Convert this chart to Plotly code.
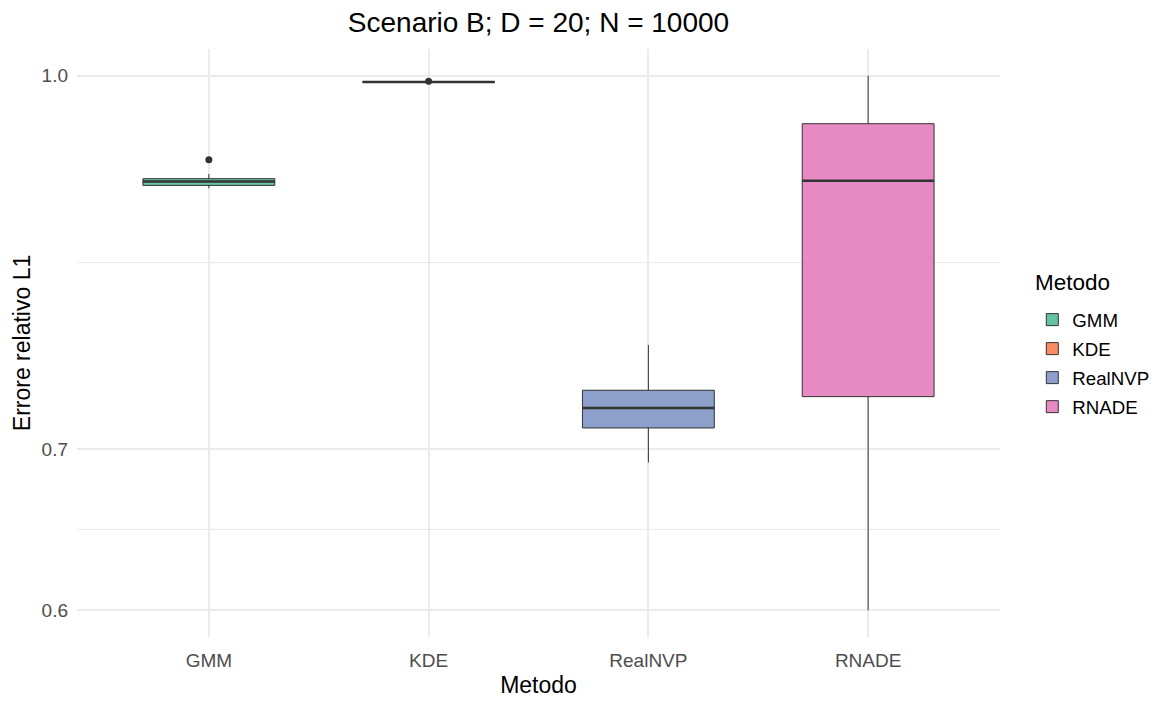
import numpy as np
import plotly.graph_objects as go

# values (boxplot statistics, log scale)
metodi = ["GMM", "KDE", "RealNVP", "RNADE"]
colori = ["#66C2A5", "#FC8D62", "#8DA0CB", "#E78AC3"]
q1 = [0.9005, 0.9938, 0.7142, 0.7359]
mediane = [0.9038, 0.9940, 0.7279, 0.9045]
q3 = [0.9063, 0.9942, 0.7404, 0.9552]
baffo_basso = [0.8980, 0.9935, 0.6910, 0.6000]
baffo_alto = [0.9104, 0.9945, 0.7731, 1.0000]
outlier_x = ["GMM", "KDE"]
outlier_y = [0.9229, 0.9948]

tick_vals = [0.6, 0.7, 1.0]
tick_text = ["0.6", "0.7", "1.0"]

pos = {m: i + 1 for i, m in enumerate(metodi)}
larghezza = 0.6
linea = "#333333"
griglia = "#EBEBEB"

fig = go.Figure()

for i, m in enumerate(metodi):
    fig.add_trace(go.Box(
        x=[pos[m]], q1=[q1[i]], median=[mediane[i]], q3=[q3[i]],
        lowerfence=[baffo_basso[i]], upperfence=[baffo_alto[i]],
        name=m, width=larghezza, whiskerwidth=0,
        fillcolor=colori[i], line=dict(color=linea, width=1),
        boxpoints=False, legendgroup=m,
    ))

# thicker median segment, like ggplot
for i, m in enumerate(metodi):
    fig.add_trace(go.Scatter(
        x=[pos[m] - larghezza / 2, pos[m] + larghezza / 2],
        y=[mediane[i], mediane[i]], mode="lines",
        line=dict(color=linea, width=2.5), showlegend=False,
        hoverinfo="skip",
    ))

fig.add_trace(go.Scatter(
    x=[pos[m] for m in outlier_x], y=outlier_y, mode="markers",
    marker=dict(color=linea, size=7), showlegend=False,
))

lo = np.log10(min(baffo_basso))
hi = np.log10(max(baffo_alto))
pad = (hi - lo) * 0.05
minori = [np.sqrt(tick_vals[0] * tick_vals[1]), np.sqrt(tick_vals[1] * tick_vals[2])]

# page body has an 8px margin, so the figure is a bit smaller than the window
fig.update_layout(
    width=1167, height=700,
    paper_bgcolor="white", plot_bgcolor="white",
    font=dict(family="Liberation Sans, Arial", color="black"),
    margin=dict(l=69, r=175, t=41, b=71, autoexpand=False),
    title=dict(text="Scenario B; D = 20; N = 10000", x=0.5, xref="paper",
               xanchor="center", y=0.98, yanchor="middle",
               font=dict(size=28, color="black")),
    xaxis=dict(
        range=[0.4, 4.6], tickmode="array",
        tickvals=[pos[m] for m in metodi], ticktext=metodi,
        showgrid=True, gridcolor=griglia, gridwidth=2,
        zeroline=False, showline=False, ticks="", automargin=False,
        tickfont=dict(size=19, color="#4D4D4D"), ticklabelstandoff=10,
        title=dict(text="Metodo", font=dict(size=23, color="black"), standoff=6),
    ),
    yaxis=dict(
        type="log", range=[lo - pad, hi + pad], tickmode="array",
        tickvals=tick_vals, ticktext=tick_text,
        showgrid=True, gridcolor=griglia, gridwidth=2,
        minor=dict(tickmode="array", tickvals=minori, showgrid=True,
                   gridcolor=griglia, gridwidth=1, ticks=""),
        zeroline=False, showline=False, ticks="", automargin=False,
        tickfont=dict(size=19, color="#4D4D4D"), ticklabelstandoff=8,
        title=dict(text="Errore relativo L1", font=dict(size=23, color="black"), standoff=4),
    ),
    legend=dict(
        font=dict(size=18.7, color="black"),
        x=1.035, xanchor="left", y=0.5715, yanchor="top",
        tracegroupgap=1.7, itemwidth=30,
    ),
    annotations=[dict(
        text="Metodo", xref="paper", yref="paper", x=1.0358, y=0.6037,
        xanchor="left", yanchor="middle", showarrow=False,
        font=dict(size=22.5, color="black"),
    )],
    showlegend=True,
)

fig.write_html("out.html")
